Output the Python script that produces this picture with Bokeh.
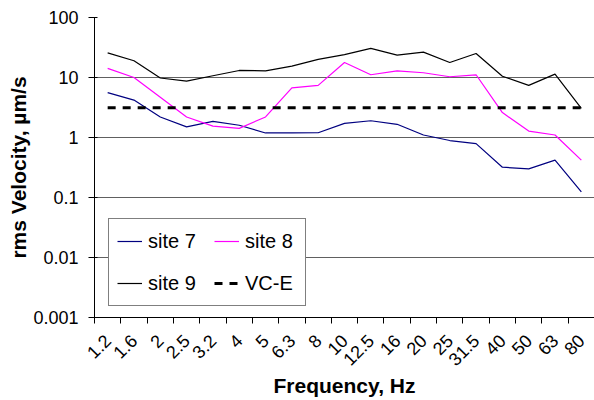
import math
from bokeh.plotting import figure
from bokeh.models import (FixedTicker, Legend, LegendItem, CustomJSTickFormatter,
                          Range1d)
from bokeh.embed import file_html
from bokeh.resources import INLINE

# ---- data ----
freqs = ["1.2", "1.6", "2", "2.5", "3.2", "4", "5", "6.3", "8", "10", "12.5",
         "16", "20", "25", "31.5", "40", "50", "63", "80"]
site7 = [5.6, 4.2, 2.2, 1.5, 1.86, 1.6, 1.19, 1.19, 1.2, 1.72, 1.9, 1.66,
         1.1, 0.89, 0.79, 0.32, 0.30, 0.42, 0.124]
site8 = [14.2, 10.0, 4.7, 2.2, 1.55, 1.42, 2.2, 6.7, 7.4, 17.8, 11.1, 12.9,
         12.0, 10.3, 11.1, 2.6, 1.28, 1.1, 0.42]
site9 = [25.8, 19.0, 9.8, 8.7, 10.7, 13.1, 12.9, 15.5, 20.0, 24.0, 30.5, 23.6,
         26.5, 17.8, 25.1, 10.5, 7.4, 11.4, 3.06]
vce_level = 3.125
y_ticks = [0.001, 0.01, 0.1, 1, 10, 100]

FONT = "Liberation Sans"
x = list(range(len(freqs)))

p = figure(width=594, height=400, y_axis_type="log",
           x_range=Range1d(-0.5, len(freqs) - 0.5), y_range=Range1d(0.001, 100),
           output_backend="svg", toolbar_location=None,
           min_border_left=94, min_border_right=0, min_border_top=17,
           min_border_bottom=82)
p.outline_line_color = None
p.background_fill_color = "white"
p.border_fill_color = "white"

r7 = p.line(x, site7, line_color="#000080", line_width=1.2)
r8 = p.line(x, site8, line_color="#FF00FF", line_width=1.2)
r9 = p.line(x, site9, line_color="#000000", line_width=1.2)
rv = p.line(x, [vce_level] * len(freqs), line_color="black", line_width=3,
            line_dash="8 7")

# x axis
xa = p.xaxis[0]
xa.ticker = FixedTicker(ticks=x, minor_ticks=[i - 0.5 for i in range(len(freqs) + 1)])
xa.major_label_overrides = {i: f for i, f in enumerate(freqs)}
xa.major_label_orientation = math.pi / 4
xa.major_tick_in = 0
xa.major_tick_out = 0
xa.minor_tick_in = 0
xa.minor_tick_out = 6
xa.minor_tick_line_color = "black"
xa.axis_line_color = "black"
xa.major_label_text_font = FONT
xa.major_label_text_font_size = "18px"
xa.major_label_text_color = "black"
xa.major_label_standoff = 14
xa.axis_label = "Frequency, Hz"
xa.axis_label_text_font = FONT
xa.axis_label_text_font_size = "21px"
xa.axis_label_text_font_style = "bold"
xa.axis_label_text_color = "black"
xa.axis_label_standoff = 0

# y axis
ya = p.yaxis[0]
ya.ticker = FixedTicker(ticks=y_ticks, minor_ticks=[])
ya.formatter = CustomJSTickFormatter(code="return tick.toString();")
ya.major_tick_in = 3
ya.major_tick_out = 6
ya.major_tick_line_color = "black"
ya.axis_line_color = "black"
ya.major_label_text_font = FONT
ya.major_label_text_font_size = "18px"
ya.major_label_text_color = "black"
ya.major_label_standoff = 10
ya.axis_label = "rms Velocity, µm/s"
ya.axis_label_text_font = FONT
ya.axis_label_text_font_size = "21px"
ya.axis_label_text_font_style = "bold"
ya.axis_label_text_color = "black"
ya.axis_label_standoff = 0

p.xgrid.grid_line_color = None
p.ygrid.ticker = FixedTicker(ticks=y_ticks, minor_ticks=[])
p.ygrid.grid_line_color = "#606060"
p.ygrid.grid_line_width = 1

legend = Legend(items=[LegendItem(label="site 7", renderers=[r7]),
                       LegendItem(label="site 8", renderers=[r8]),
                       LegendItem(label="site 9", renderers=[r9]),
                       LegendItem(label="VC-E", renderers=[rv])],
                location=(14, 11), orientation="horizontal", ncols=2)
legend.border_line_color = "black"
legend.border_line_width = 1
legend.background_fill_color = "white"
legend.background_fill_alpha = 1
legend.label_text_font = FONT
legend.label_text_font_size = "20px"
legend.label_text_color = "black"
legend.glyph_width = 25
legend.glyph_height = 28
legend.label_height = 28
legend.label_width = 52
legend.label_standoff = 6
legend.padding = 8
legend.spacing = 14
legend.margin = 0
p.add_layout(legend)

open("out.html", "w").write(file_html(p, INLINE))
